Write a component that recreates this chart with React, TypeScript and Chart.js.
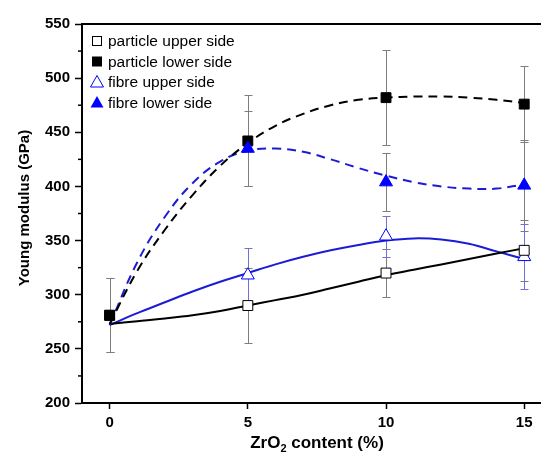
import React, { useEffect, useRef } from 'react';
import { Chart, registerables } from 'chart.js';

Chart.register(...registerables);

// ---- data ----
const xPoints = [0, 5, 10, 15];
const particleUpper = [281, 290, 320, 341];
const particleUpperErr = [34, 35, 22, 28];
const particleLower = [281, 442, 482, 476];
const particleLowerErr = [34, 42, 44, 35];
const fibreUpper = [null, 318, 354, 335];
const fibreUpperErr = [0, 25, 19, 30];
const fibreLower = [null, 435, 404, 401];
const fibreLowerErr = [0, 35, 27, 42];

// fitted curves
const fitX = [0, 1, 2, 3, 4, 5, 6, 7, 8, 9, 10, 11, 12, 13, 14, 15];
const particleUpperFit = [273, 275.5, 278, 281, 285, 290, 295, 300, 306, 312, 318, 323, 328, 333, 338, 343];
const fibreUpperFit = [272, 283, 293, 303, 312, 320, 328, 335, 341, 346, 350, 352, 351, 347, 340, 333];
const particleLowerFit = [273, 322, 360, 392, 419, 440, 456, 467, 475, 480, 482, 483, 483, 482, 480, 477];
const fibreLowerFit = [272, 330, 372, 403, 423, 433, 435, 432, 425, 417, 410, 404, 400, 398, 398, 402];

const xTicks = [0, 5, 10, 15];
const yTicks = [200, 250, 300, 350, 400, 450, 500, 550];
const yMinorTicks = [225, 275, 325, 375, 425, 475, 525];

const legendLabels = ['particle upper side', 'particle lower side', 'fibre upper side', 'fibre lower side'];
const yTitle = 'Young modulus (GPa)';
const xTitleParts = ['ZrO', '2', ' content (%)'];

const BLACK = '#000000';
const BLUE = '#0000ff';
const BLUE_LINE = '#1c1cd6';
const GRAY_ERR = '#7d7d7d';
const BLUE_ERR = '#7070d8';

const FONT = '"Liberation Sans", Arial, sans-serif';

const pts = (xs: number[], ys: (number | null)[]) => xs.map((x, i) => ({ x, y: ys[i] }));

const errorBarPlugin = {
  id: 'errorBars',
  beforeDatasetsDraw(chart: any) {
    const ctx = chart.ctx;
    const xs = chart.scales.x;
    const ys = chart.scales.y;
    const sets = [
      { vals: fibreLower, errs: fibreLowerErr, color: GRAY_ERR },
      { vals: particleLower, errs: particleLowerErr, color: GRAY_ERR },
      { vals: particleUpper, errs: particleUpperErr, color: GRAY_ERR },
      { vals: fibreUpper, errs: fibreUpperErr, color: BLUE_ERR },
    ];
    ctx.save();
    ctx.lineWidth = 1;
    sets.forEach((s) => {
      ctx.strokeStyle = s.color;
      s.vals.forEach((v, i) => {
        if (v == null || !s.errs[i]) return;
        const px = Math.round(xs.getPixelForValue(xPoints[i])) + 0.5;
        const top = Math.round(ys.getPixelForValue(v + s.errs[i])) + 0.5;
        const bot = Math.round(ys.getPixelForValue(v - s.errs[i])) + 0.5;
        ctx.beginPath();
        ctx.moveTo(px, top);
        ctx.lineTo(px, bot);
        ctx.moveTo(px - 4, top);
        ctx.lineTo(px + 4, top);
        ctx.moveTo(px - 4, bot);
        ctx.lineTo(px + 4, bot);
        ctx.stroke();
      });
    });
    ctx.restore();
  },
};

const decorPlugin = {
  id: 'decor',
  afterDraw(chart: any) {
    const ctx = chart.ctx;
    const area = chart.chartArea;
    const ys = chart.scales.y;
    ctx.save();
    // top frame line
    ctx.strokeStyle = BLACK;
    ctx.lineWidth = 2;
    ctx.beginPath();
    ctx.moveTo(area.left - 1, area.top);
    ctx.lineTo(chart.width, area.top);
    ctx.stroke();
    // bottom axis line continues to the edge
    ctx.beginPath();
    ctx.moveTo(area.right, area.bottom);
    ctx.lineTo(chart.width, area.bottom);
    ctx.stroke();
    // minor y ticks
    ctx.lineWidth = 1.5;
    yMinorTicks.forEach((v) => {
      const py = ys.getPixelForValue(v);
      ctx.beginPath();
      ctx.moveTo(area.left - 4, py);
      ctx.lineTo(area.left, py);
      ctx.stroke();
    });
    // y axis title
    ctx.fillStyle = BLACK;
    ctx.save();
    ctx.translate(25, 208);
    ctx.rotate(-Math.PI / 2);
    ctx.font = `bold 15px ${FONT}`;
    ctx.textAlign = 'center';
    ctx.textBaseline = 'middle';
    ctx.fillText(yTitle, 0, 0);
    ctx.restore();

    // x axis title with subscript
    ctx.textAlign = 'left';
    ctx.textBaseline = 'alphabetic';
    const big = `bold 17px ${FONT}`;
    const small = `bold 11px ${FONT}`;
    ctx.font = big;
    const w0 = ctx.measureText(xTitleParts[0]).width;
    const w2 = ctx.measureText(xTitleParts[2]).width;
    ctx.font = small;
    const w1 = ctx.measureText(xTitleParts[1]).width;
    const total = w0 + w1 + w2;
    const cx = 317;
    let x = cx - total / 2;
    const baseY = 448;
    ctx.font = big;
    ctx.fillText(xTitleParts[0], x, baseY);
    x += w0;
    ctx.font = small;
    ctx.fillText(xTitleParts[1], x, baseY + 4);
    x += w1;
    ctx.font = big;
    ctx.fillText(xTitleParts[2], x, baseY);

    // legend
    const lx = 97;
    const tx = 108;
    const rows = [41, 61.5, 82, 102.5];
    ctx.font = `15.5px ${FONT}`;
    ctx.textBaseline = 'middle';
    ctx.textAlign = 'left';
    rows.forEach((ry, i) => {
      ctx.lineWidth = 1;
      if (i === 0) {
        ctx.fillStyle = '#ffffff';
        ctx.strokeStyle = BLACK;
        ctx.fillRect(lx - 5, ry - 5, 10, 10);
        ctx.strokeRect(lx - 4.5, ry - 4.5, 9, 9);
      } else if (i === 1) {
        ctx.fillStyle = BLACK;
        ctx.fillRect(lx - 5, ry - 5, 10, 10);
      } else {
        ctx.beginPath();
        ctx.moveTo(lx, ry - 6.5);
        ctx.lineTo(lx + 6.5, ry + 5);
        ctx.lineTo(lx - 6.5, ry + 5);
        ctx.closePath();
        if (i === 2) {
          ctx.strokeStyle = BLUE;
          ctx.fillStyle = '#ffffff';
          ctx.fill();
          ctx.stroke();
        } else {
          ctx.fillStyle = BLUE;
          ctx.fill();
        }
      }
      ctx.fillStyle = BLACK;
      ctx.fillText(legendLabels[i], tx, ry + 1);
    });
    ctx.restore();
  },
};

export default function App() {
  const ref = useRef<HTMLCanvasElement | null>(null);

  useEffect(() => {
    if (!ref.current) return;
    const fitCommon = {
      showLine: true,
      pointRadius: 0,
      borderWidth: 2,
      tension: 0.4,
      fill: false,
    };
    const chart = new Chart(ref.current, {
      type: 'scatter',
      data: {
        datasets: [
          {
            label: 'particle lower fit',
            data: pts(fitX, particleLowerFit),
            borderColor: BLACK,
            borderDash: [9, 6],
            order: 10,
            ...fitCommon,
          },
          {
            label: 'fibre lower fit',
            data: pts(fitX, fibreLowerFit),
            borderColor: BLUE_LINE,
            borderDash: [9, 6],
            order: 11,
            ...fitCommon,
          },
          {
            label: 'particle upper fit',
            data: pts(fitX, particleUpperFit),
            borderColor: BLACK,
            order: 12,
            ...fitCommon,
          },
          {
            label: 'fibre upper fit',
            data: pts(fitX, fibreUpperFit),
            borderColor: BLUE_LINE,
            order: 13,
            ...fitCommon,
          },
          {
            label: legendLabels[2],
            data: pts(xPoints, fibreUpper),
            pointStyle: 'triangle',
            pointRadius: 7.5,
            pointBorderWidth: 1,
            pointBackgroundColor: '#ffffff',
            pointBorderColor: BLUE,
            showLine: false,
            order: 4,
          },
          {
            label: legendLabels[0],
            data: pts(xPoints, particleUpper),
            pointStyle: 'rect',
            pointRadius: 7,
            pointBorderWidth: 1,
            pointBackgroundColor: '#ffffff',
            pointBorderColor: BLACK,
            showLine: false,
            order: 3,
          },
          {
            label: legendLabels[1],
            data: pts(xPoints, particleLower),
            pointStyle: 'rect',
            pointRadius: 7,
            pointBorderWidth: 1,
            pointBackgroundColor: BLACK,
            pointBorderColor: BLACK,
            showLine: false,
            order: 2,
          },
          {
            label: legendLabels[3],
            data: pts(xPoints, fibreLower),
            pointStyle: 'triangle',
            pointRadius: 7.5,
            pointBorderWidth: 1,
            pointBackgroundColor: BLUE,
            pointBorderColor: BLUE,
            showLine: false,
            order: 1,
          },
        ],
      },
      options: {
        responsive: false,
        animation: false,
        devicePixelRatio: 1,
        layout: { padding: { top: 24, right: 0, left: 0, bottom: 0 } },
        plugins: {
          legend: { display: false },
          tooltip: { enabled: false },
        },
        scales: {
          x: {
            type: 'linear',
            min: -1,
            max: 15.3,
            afterBuildTicks: (s: any) => {
              s.ticks = xTicks.map((v) => ({ value: v }));
            },
            afterFit: (s: any) => {
              s.height = 63;
            },
            grid: {
              drawOnChartArea: false,
              drawTicks: true,
              tickLength: 6,
              tickWidth: 1.5,
              tickColor: BLACK,
            },
            border: { display: true, color: BLACK, width: 2 },
            ticks: {
              color: BLACK,
              padding: 5,
              font: { family: FONT, size: 15, weight: 'bold' },
              maxRotation: 0,
            },
            title: { display: false },
          },
          y: {
            type: 'linear',
            min: 200,
            max: 550,
            afterBuildTicks: (s: any) => {
              s.ticks = yTicks.map((v) => ({ value: v }));
            },
            afterFit: (s: any) => {
              s.width = 82;
            },
            grid: {
              drawOnChartArea: false,
              drawTicks: true,
              tickLength: 7,
              tickWidth: 1.5,
              tickColor: BLACK,
            },
            border: { display: true, color: BLACK, width: 2 },
            ticks: {
              color: BLACK,
              padding: 5,
              font: { family: FONT, size: 15, weight: 'bold' },
            },
            title: { display: false },
          },
        },
      },
      plugins: [errorBarPlugin, decorPlugin],
    } as any);
    return () => chart.destroy();
  }, []);

  return (
    <div style={{ position: 'fixed', left: 0, top: 0, width: 541, height: 466, background: '#fff' }}>
      <canvas ref={ref} width={541} height={466} style={{ display: 'block' }} />
    </div>
  );
}
